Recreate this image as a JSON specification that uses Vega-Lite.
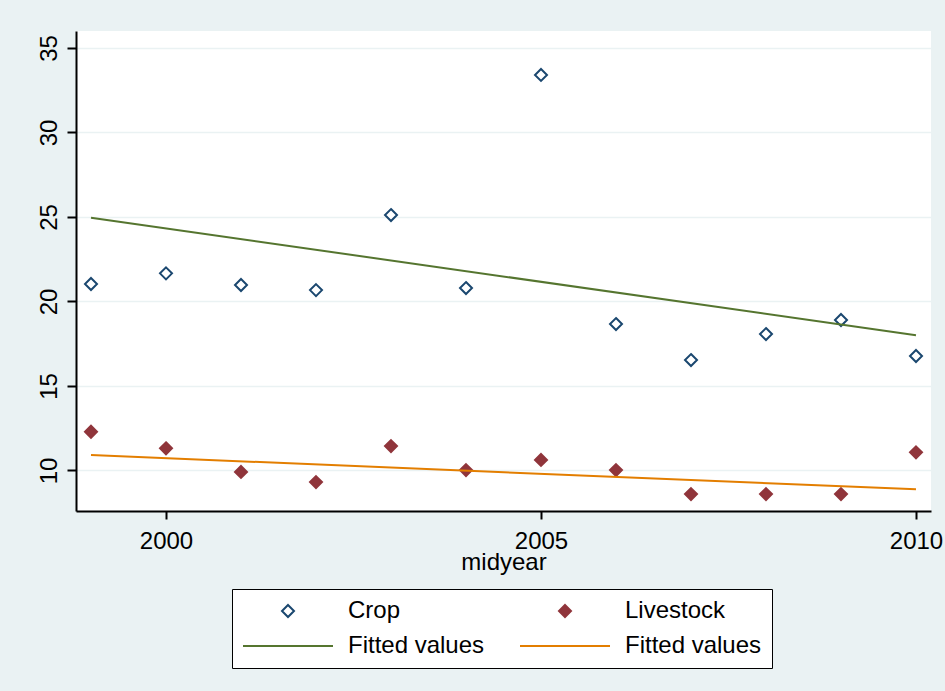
{
  "$schema": "https://vega.github.io/schema/vega-lite/v6.json",
  "autosize": {"type": "none"},
  "width": 855,
  "height": 480,
  "padding": {"left": 76, "top": 31, "right": 14, "bottom": 180},
  "background": "#EAF2F3",
  "config": {
    "view": {"fill": "white", "stroke": null},
    "font": "Liberation Sans",
    "axis": {
      "domainColor": "black", "domainWidth": 2, "tickColor": "black", "tickWidth": 2,
      "labelFont": "Liberation Sans", "labelFontSize": 24, "labelColor": "black",
      "titleFont": "Liberation Sans", "titleFontSize": 24, "titleFontWeight": "normal", "titleColor": "black",
      "labelOverlap": false, "labelFlush": false
    }
  },
  "layer": [
    {
      "data": {"values": [
        {"year": 1999, "value": 21.03, "series": "Crop"},
        {"year": 2000, "value": 21.66, "series": "Crop"},
        {"year": 2001, "value": 20.97, "series": "Crop"},
        {"year": 2002, "value": 20.67, "series": "Crop"},
        {"year": 2003, "value": 25.11, "series": "Crop"},
        {"year": 2004, "value": 20.79, "series": "Crop"},
        {"year": 2005, "value": 33.4, "series": "Crop"},
        {"year": 2006, "value": 18.66, "series": "Crop"},
        {"year": 2007, "value": 16.53, "series": "Crop"},
        {"year": 2008, "value": 18.07, "series": "Crop"},
        {"year": 2009, "value": 18.9, "series": "Crop"},
        {"year": 2010, "value": 16.77, "series": "Crop"},
        {"year": 1999, "value": 12.29, "series": "Livestock"},
        {"year": 2000, "value": 11.31, "series": "Livestock"},
        {"year": 2001, "value": 9.91, "series": "Livestock"},
        {"year": 2002, "value": 9.31, "series": "Livestock"},
        {"year": 2003, "value": 11.44, "series": "Livestock"},
        {"year": 2004, "value": 10.02, "series": "Livestock"},
        {"year": 2005, "value": 10.62, "series": "Livestock"},
        {"year": 2006, "value": 10.02, "series": "Livestock"},
        {"year": 2007, "value": 8.6, "series": "Livestock"},
        {"year": 2008, "value": 8.6, "series": "Livestock"},
        {"year": 2009, "value": 8.6, "series": "Livestock"},
        {"year": 2010, "value": 11.07, "series": "Livestock"}
      ]},
      "mark": {"type": "point", "size": 400, "strokeWidth": 2, "opacity": 1},
      "encoding": {
        "x": {"field": "year", "type": "quantitative",
          "scale": {"domain": [1998.8, 2010.2], "nice": false, "zero": false},
          "axis": {"values": [2000, 2005, 2010], "format": "d", "title": "midyear", "grid": false,
            "tickSize": 8, "labelPadding": 10, "titlePadding": -3}},
        "y": {"field": "value", "type": "quantitative",
          "scale": {"domain": [7.6, 36], "nice": false, "zero": false},
          "axis": {"values": [10, 15, 20, 25, 30, 35], "title": null, "grid": true,
            "gridColor": "#EAF2F3", "gridWidth": 1.5, "tickSize": 9, "labelAngle": -90,
            "labelAlign": "center", "labelBaseline": "bottom", "labelPadding": 6}},
        "shape": {"field": "series", "type": "nominal",
          "scale": {"domain": ["Crop", "Livestock", "Fit Crop", "Fit Livestock"],
            "range": ["M0,-0.6L0.6,0L0,0.6L-0.6,0Z", "M0,-0.6L0.6,0L0,0.6L-0.6,0Z", "M-4.5,0L4.5,0", "M-4.5,0L4.5,0"]},
          "legend": {
            "title": null, "orient": "none", "legendX": 156, "legendY": 558, "columns": 2,
            "direction": "horizontal",
            "values": ["Crop", "Livestock", "Fit Crop", "Fit Livestock"],
            "padding": 10, "strokeColor": "black", "fillColor": "white",
            "symbolSize": 400, "symbolStrokeWidth": 2, "symbolOffset": 34, "labelOffset": 48,
            "labelFont": "Liberation Sans", "labelFontSize": 24, "labelColor": "black", "labelLimit": 400,
            "rowPadding": 11, "columnPadding": 31,
            "labelExpr": "indexof(datum.label, 'Fit') == 0 ? 'Fitted values' : datum.label",
            "encode": {"legend": {"update": {"strokeWidth": {"value": 2}}}}
          }},
        "stroke": {"field": "series", "type": "nominal",
          "scale": {"domain": ["Crop", "Livestock", "Fit Crop", "Fit Livestock"],
            "range": ["#1A476F", "#90353B", "#55752F", "#E37E00"]}},
        "fill": {"field": "series", "type": "nominal",
          "scale": {"domain": ["Crop", "Livestock", "Fit Crop", "Fit Livestock"],
            "range": ["white", "#90353B", "transparent", "transparent"]}}
      }
    },
    {
      "data": {"values": [
        {"year": 1999, "value": 24.95, "series": "Fit Crop"},
        {"year": 2010, "value": 18.0, "series": "Fit Crop"},
        {"year": 1999, "value": 10.91, "series": "Fit Livestock"},
        {"year": 2010, "value": 8.88, "series": "Fit Livestock"}
      ]},
      "mark": {"type": "line", "strokeWidth": 2},
      "encoding": {
        "x": {"field": "year", "type": "quantitative"},
        "y": {"field": "value", "type": "quantitative"},
        "stroke": {"field": "series", "type": "nominal", "legend": null,
          "scale": {"domain": ["Crop", "Livestock", "Fit Crop", "Fit Livestock"],
            "range": ["#1A476F", "#90353B", "#55752F", "#E37E00"]}}
      }
    }
  ]
}
